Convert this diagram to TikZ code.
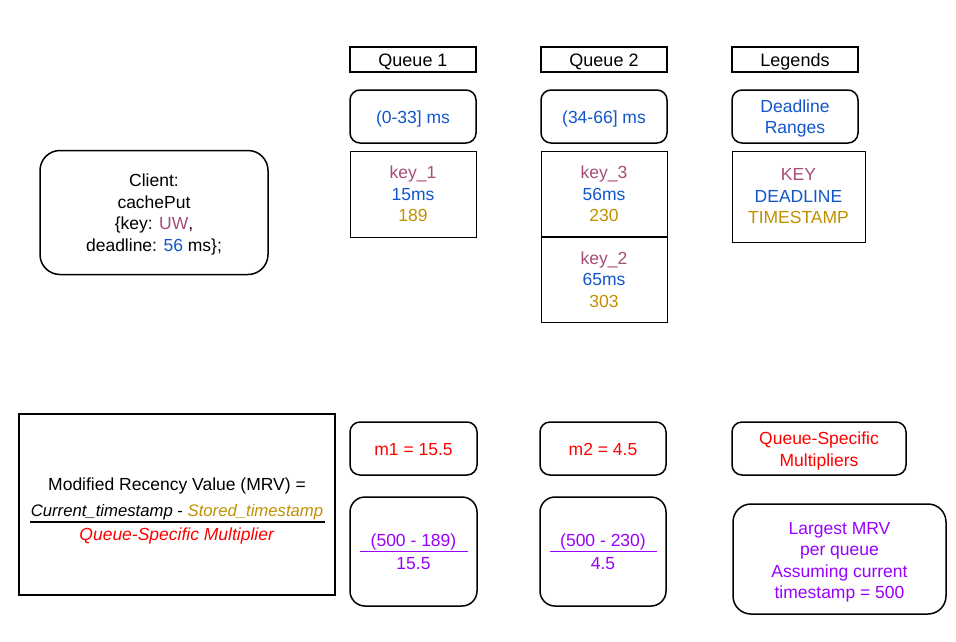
\documentclass[tikz,border=0pt]{standalone}
\usepackage{fontspec}
\setmainfont{Liberation Sans}
\definecolor{keyc}{HTML}{A64D79}
\definecolor{ddlc}{HTML}{1155CC}
\definecolor{tsc}{HTML}{BF9000}
\definecolor{mulc}{HTML}{FF0000}
\definecolor{mrvc}{HTML}{9900FF}
\tikzset{%
    hdr/.style={draw,line width=1.5pt,minimum width=126pt,minimum height=25pt,inner sep=0pt,
        text height=14pt,text depth=0pt,font=\fontsize{18}{21.5}\selectfont},
    rbox/.style={draw,line width=1.5pt,rounded corners=10pt,minimum width=126pt,minimum height=53pt,inner sep=0pt},
    one/.style={text height=14pt,text depth=0pt},
    cell/.style={draw,line width=0.8pt,minimum width=126pt,minimum height=86pt,inner sep=0pt,align=center},
    fbox/.style={draw,line width=1.5pt,rounded corners=15pt,minimum width=127pt,minimum height=109pt,inner sep=0pt},
    txt/.style={inner sep=0pt,align=center}
}

\begin{document}
\begin{tikzpicture}[x=1pt,y=-1pt,font=\fontsize{17.5}{21.5}\selectfont]
        \useasboundingbox (0,0) rectangle (956,641);

        % headers
        \node[hdr] (q1h) at (413,59.5){Queue 1};
        \node[hdr] (q2h) at (604,59.5){Queue 2};
        \node[hdr] (lgh) at (795,59.5){Legends};

        % deadline ranges
        \node[rbox,one,text=ddlc] (r1) at (413,116.5){(0-33] ms};
        \node[rbox,one,text=ddlc] (r2) at (604,116.5){(34-66] ms};
        \node[rbox] (r3) at (795,116.5){};
        \node[txt,text=ddlc] (r3t) at ([yshift=-2pt]r3.center){Deadline\\Ranges};

        % queue entries
        \node[cell] (k1) at (413,194){\color{keyc}key\_1\\\color{ddlc}15ms\\\color{tsc}189};
        \node[cell] (k3) at (604,194){\color{keyc}key\_3\\\color{ddlc}56ms\\\color{tsc}230};
        \node[cell] (k2) at (604,279.5){\color{keyc}key\_2\\\color{ddlc}65ms\\\color{tsc}303};
        \node[cell,minimum width=133pt,minimum height=91pt] (lg) at (798.5,196.5){\color{keyc}KEY\\\color{ddlc}DEADLINE\\\color{tsc}TIMESTAMP};

        \node[rbox,rounded corners=20pt,minimum width=228pt,minimum height=124pt] (client) at (154,212.5){};
        \node[txt] (clientt) at ([yshift=-2pt]client.center)
            {Client:\\cachePut\\\{key: \textcolor{keyc}{UW},\\deadline: \textcolor{ddlc}{56} ms\};};

        % MRV formula
        \node[draw,line width=1.5pt,minimum width=316pt,minimum height=181pt] (mrv) at (177,504.5){};
        \node[txt] (mrvt) at (177,485.5){Modified Recency Value (MRV) =};
        \node[txt,font=\fontsize{16.7}{20}\selectfont] (mrvn) at (177,512){\textit{Current\_timestamp} - \textcolor{tsc}{\textit{Stored\_timestamp}}};
        \node[txt,text=mulc] (mrvd) at (177,536){\textit{Queue-Specific Multiplier}};
        \coordinate (mb1) at (30,522);
        \coordinate (mb2) at (325,522);
        \draw[line width=1.5pt] (mb1) -- (mb2);

        % multipliers
        \node[rbox,one,text=mulc,minimum width=127pt] (m1) at (413.5,448.5){m1 = 15.5};
        \node[rbox,one,text=mulc] (m2) at (603,448.5){m2 = 4.5};
        \node[rbox,minimum width=174pt] (qsm) at (819,448.5){};
        \node[txt,text=mulc] (qsmt) at ([yshift=-2.5pt]qsm.center){Queue-Specific\\Multipliers};

        % largest MRV per queue
        \node[fbox] (f1) at (413.5,551.5){};
        \node[txt,text=mrvc] (f1n) at (413.5,541.5){(500 - 189)};
        \node[txt,text=mrvc] (f1d) at (413.5,563.5){15.5};
        \coordinate (f1a) at (360,551.5);
        \coordinate (f1b) at (468,551.5);
        \draw[mrvc,line width=1.5pt] (f1a) -- (f1b);

        \node[fbox,minimum width=126pt] (f2) at (603,551.5){};
        \node[txt,text=mrvc] (f2n) at (603,541.5){(500 - 230)};
        \node[txt,text=mrvc] (f2d) at (603,563.5){4.5};
        \coordinate (f2a) at (550,551.5);
        \coordinate (f2b) at (657,551.5);
        \draw[mrvc,line width=1.5pt] (f2a) -- (f2b);

        \node[fbox,rounded corners=18pt,minimum width=213pt,minimum height=110pt] (big) at (839.5,559){};
        \node[txt,text=mrvc] (bigt) at ([yshift=-3.5pt]big.center){Largest MRV\\per queue\\Assuming current\\timestamp = 500};
    \end{tikzpicture}
\end{document}
